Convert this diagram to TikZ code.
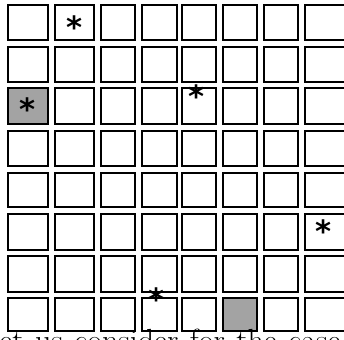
\documentclass[tikz,border=0pt]{standalone}
\usepackage{fontspec}
\newfontfamily\starfont{DejaVu Sans}
\definecolor{cellgray}{RGB}{163,163,163}
\begin{document}
\begin{tikzpicture}[x=0.75pt,y=-0.75pt,
  cell/.style={draw=black, line width=1.5pt, fill=white, inner sep=0pt, outer sep=0pt, anchor=north west},
  star/.style={inner sep=0pt, font=\starfont\fontsize{23}{27}\selectfont\bfseries, anchor=base},
  shade3-1/.style={fill=cellgray},
  shade8-6/.style={fill=cellgray}]
\useasboundingbox (0,0) rectangle (344,340);
\foreach \ci/\xl/\xr in {1/8/48.5, 2/55/94, 3/101/135, 4/142/177, 5/182.5/216.5, 6/223/257, 7/264/298, 8/305/346}{
  \foreach \ri/\yt/\yb in {1/5/40, 2/47/82, 3/88/124, 4/131/166, 5/173/207, 6/214/250, 7/256/292, 8/298/331}{
    \node[cell, shade\ri-\ci/.try, minimum width={(\xr-\xl)*0.75pt}, minimum height={(\yb-\yt)*0.75pt}] (c\ri-\ci) at (\xl,\yt) {};
  }
}
\node[star] (s1) at (75,38) {*};
\node[star] (s2) at (28,120) {*};
\node[star] (s3) at (197,107) {*};
\node[star] (s4) at (324,242) {*};
\node[star] (s5) at (157,310) {*};
\node[anchor=base west, inner sep=0pt, font=\fontsize{24}{28}\selectfont] (caption) at (-1,351) {\makebox[256pt][s]{et us consider for the case}};
\end{tikzpicture}
\end{document}
